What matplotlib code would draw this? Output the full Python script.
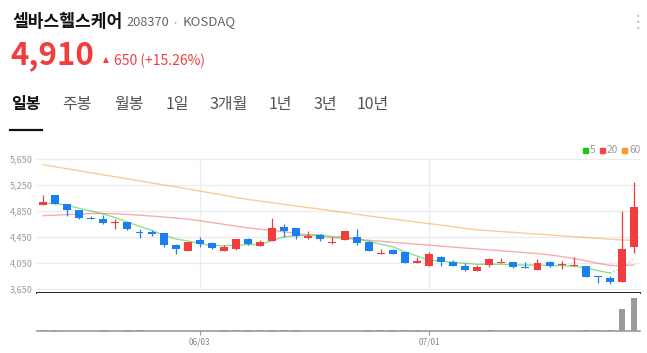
import matplotlib.pyplot as plt
import pandas as pd

plt.rcParams['font.family'] = ['Noto Sans CJK KR', 'DejaVu Sans']

# trading days 2024-05-14 .. 2024-07-24 (KRX holidays 05/15, 06/06)
dates = pd.bdate_range('2024-05-14', '2024-07-24', freq='C', holidays=['2024-05-15', '2024-06-06'])
tick_labels = ['06/03', '07/01']

opens = [4943, 5096, 4953, 4865, 4747, 4732, 4660, 4676, 4527, 4527,
         4507, 4323, 4235, 4404, 4353, 4235, 4266, 4424, 4317, 4393,
         4599, 4584, 4440, 4481, 4363, 4409, 4446, 4378, 4185, 4250,
         4220, 4055, 4004, 4138, 4071, 4000, 3923, 4015, 4050, 4066,
         3985, 3948, 4066, 4020, 4009, 4004, 3851, 3825, 3758, 4301]
highs = [5096, 5096, 4953, 4865, 4780, 4790, 4723, 4676, 4569, 4555,
         4507, 4343, 4373, 4446, 4373, 4327, 4420, 4440, 4404, 4743,
         4650, 4584, 4543, 4501, 4446, 4547, 4573, 4393, 4266, 4270,
         4220, 4148, 4215, 4163, 4097, 4045, 4015, 4127, 4127, 4066,
         4061, 4107, 4086, 4086, 4138, 4004, 3851, 3856, 4850, 5291]
lows = [4943, 4953, 4773, 4732, 4727, 4655, 4569, 4563, 4430, 4470,
        4292, 4189, 4235, 4301, 4270, 4235, 4255, 4330, 4317, 4393,
        4446, 4420, 4424, 4393, 4348, 4400, 4332, 4240, 4185, 4184,
        4055, 4055, 4004, 4009, 4009, 3923, 3923, 3994, 4050, 3974,
        3966, 3948, 3984, 3954, 4009, 3840, 3738, 3732, 3758, 4204]
closes = [4989, 4953, 4865, 4747, 4732, 4661, 4676, 4573, 4507, 4492,
          4323, 4272, 4373, 4338, 4286, 4292, 4420, 4338, 4369, 4584,
          4547, 4470, 4470, 4420, 4373, 4547, 4358, 4240, 4200, 4194,
          4055, 4081, 4189, 4071, 4009, 3938, 3989, 4107, 4066, 3989,
          3966, 4046, 4009, 4035, 4025, 3840, 3836, 3764, 4260, 4910]
volumes = [60000, 55000, 30000, 45000, 25000, 50000, 28000, 52000, 60000, 48000,
           32000, 30000, 26000, 24000, 28000, 55000, 62000, 58000, 70000, 65000,
           60000, 58000, 30000, 25000, 22000, 28000, 45000, 62000, 58000, 55000,
           60000, 50000, 32000, 48000, 26000, 22000, 20000, 52000, 24000, 22000,
           20000, 21000, 20000, 23000, 48000, 55000, 52000, 60000, 2150000, 3250000]

ma5 = [4968, 4963, 4937, 4891, 4850, 4804, 4747, 4681, 4614, 4553,
       4481, 4420, 4389, 4348, 4317, 4317, 4323, 4332, 4338, 4393,
       4455, 4466, 4481, 4486, 4455, 4450, 4424, 4384, 4338, 4301,
       4224, 4158, 4097, 4081, 4061, 4045, 4030, 4030, 4030, 4020,
       4020, 4020, 4009, 4009, 4004, 3974, 3933, 3897, 3964, 4127]
ma20 = [4778, 4786, 4795, 4804, 4812, 4812, 4806, 4796, 4786, 4772,
        4758, 4742, 4725, 4700, 4672, 4645, 4618, 4590, 4570, 4552,
        4530, 4505, 4482, 4460, 4440, 4428, 4414, 4399, 4384, 4369,
        4354, 4340, 4325, 4310, 4295, 4280, 4266, 4252, 4238, 4224,
        4210, 4195, 4175, 4150, 4120, 4085, 4045, 4015, 4008, 4020]
ma60 = [5562, 5531, 5500, 5469, 5438, 5407, 5376, 5345, 5314, 5283,
        5252, 5222, 5190, 5158, 5125, 5092, 5058, 5028, 5002, 4977,
        4952, 4927, 4902, 4877, 4852, 4826, 4800, 4774, 4750, 4727,
        4703, 4680, 4656, 4632, 4608, 4582, 4560, 4547, 4534, 4521,
        4508, 4495, 4482, 4469, 4456, 4443, 4430, 4417, 4404, 4400]

price_ticks = [3650, 4050, 4450, 4850, 5250, 5650]

W, H = 647, 353
RED = '#f03e3e'
BLUE = '#1b7ff0'

fig = plt.figure(figsize=(W / 100, H / 100), dpi=100)


def ftext(x, y, s, **kw):
    fig.text(x / W, 1 - y / H, s, **kw)


# header
ftext(12, 22, '셀바스헬스케어', fontsize=12.3, fontweight='bold', color='#111111', va='center')
ftext(126, 22, '208370', fontsize=9.2, color='#666666', va='center')
ftext(174, 22, '•', fontsize=6, color='#bbbbbb', va='center')
ftext(183, 22, 'KOSDAQ', fontsize=9.5, color='#666666', va='center')
ftext(638, 22, '⋮', fontsize=12, color='#bbbbbb', va='center', ha='center', family='DejaVu Sans')
ftext(10, 55, '4,910', fontsize=22.5, fontweight='bold', color=RED, va='center')
ftext(103, 60, '▲', fontsize=5.5, color=RED, va='center', family='DejaVu Sans')
ftext(114, 61, '650 (+15.26%)', fontsize=10, color=RED, va='center')

tabs = ['일봉', '주봉', '월봉', '1일', '3개월', '1년', '3년', '10년']
tab_x = [11, 62, 114, 166, 210, 269, 313, 357]
for i, (t, x) in enumerate(zip(tabs, tab_x)):
    ftext(x, 104, t, fontsize=11.5, va='center',
          color='#111111' if i == 0 else '#555555',
          fontweight='bold' if i == 0 else 'normal')
fig.add_artist(plt.Line2D([10 / W, 42 / W], [1 - 129.5 / H] * 2, color='#111111', lw=1.6))

# price pane
left, right = 37, 640
ax = fig.add_axes([left / W, (H - 293) / H, (right - left) / W, 148 / H])
x = range(len(dates))
ax.set_xlim(-0.5, len(dates) - 0.5)
ax.set_ylim(3589, 5865)
for p in price_ticks:
    ax.axhline(p, color='#ececec', lw=1, zorder=0)
tick_idx = [i for i, d in enumerate(dates) if d.strftime('%m/%d') in tick_labels]
ax.vlines(tick_idx, price_ticks[0], price_ticks[-1], color='#ececec', lw=1, zorder=0)

ax.plot(x, ma60, color='#f99a2a', alpha=0.5, lw=1, zorder=1)
ax.plot(x, ma20, color='#f04848', alpha=0.45, lw=1, zorder=1)
ax.plot(list(x)[:-2], ma5[:-2], color='#22c122', alpha=0.5, lw=1, zorder=1)
ax.plot(list(x)[-3:], ma5[-3:], color='#22c122', alpha=0.5, lw=1, ls=':', zorder=1)

for i in x:
    c = RED if closes[i] > opens[i] else BLUE
    ax.vlines(i, lows[i], highs[i], color=c, lw=0.9, zorder=2)
    lo, hi = min(opens[i], closes[i]), max(opens[i], closes[i])
    ax.bar(i, max(hi - lo, 12), bottom=lo, width=0.66, color=c, zorder=3)

ax.set_yticks(price_ticks)
ax.set_yticklabels([f'{p:,}' for p in price_ticks], fontsize=6.5, color='#999999')
ax.tick_params(axis='y', length=0, pad=3)
ax.set_xticks([])
for s in ['top', 'left', 'right']:
    ax.spines[s].set_visible(False)
ax.spines['bottom'].set_color('#111111')
ax.spines['bottom'].set_linewidth(1.3)

# legend
for xx, col, lab in [(583, '#1fc41f', '5'), (600, '#f04848', '20'), (622, '#f99a2a', '60')]:
    fig.add_artist(plt.Rectangle((xx / W, 1 - 152.5 / H), 5 / W, 5 / H, color=col))
    ftext(xx + 7, 150, lab, fontsize=7.3, color='#999999', va='center')

# volume pane
vax = fig.add_axes([left / W, (H - 331) / H, (right - left) / W, 38 / H])
vax.bar(x, volumes, width=0.55, color='#9a9a9a')
vax.set_xlim(-0.5, len(dates) - 0.5)
vax.set_ylim(0, max(volumes) / 0.868)
vax.set_yticks([])
vax.set_xticks(tick_idx)
vax.set_xticklabels(tick_labels, fontsize=6, color='#888888')
vax.tick_params(axis='x', length=3, color='#999999', pad=2)
for s in ['top', 'left', 'right']:
    vax.spines[s].set_visible(False)
vax.spines['bottom'].set_color('#9a9a9a')
vax.spines['bottom'].set_linewidth(1.2)

fig.savefig('out.png', dpi=100)
